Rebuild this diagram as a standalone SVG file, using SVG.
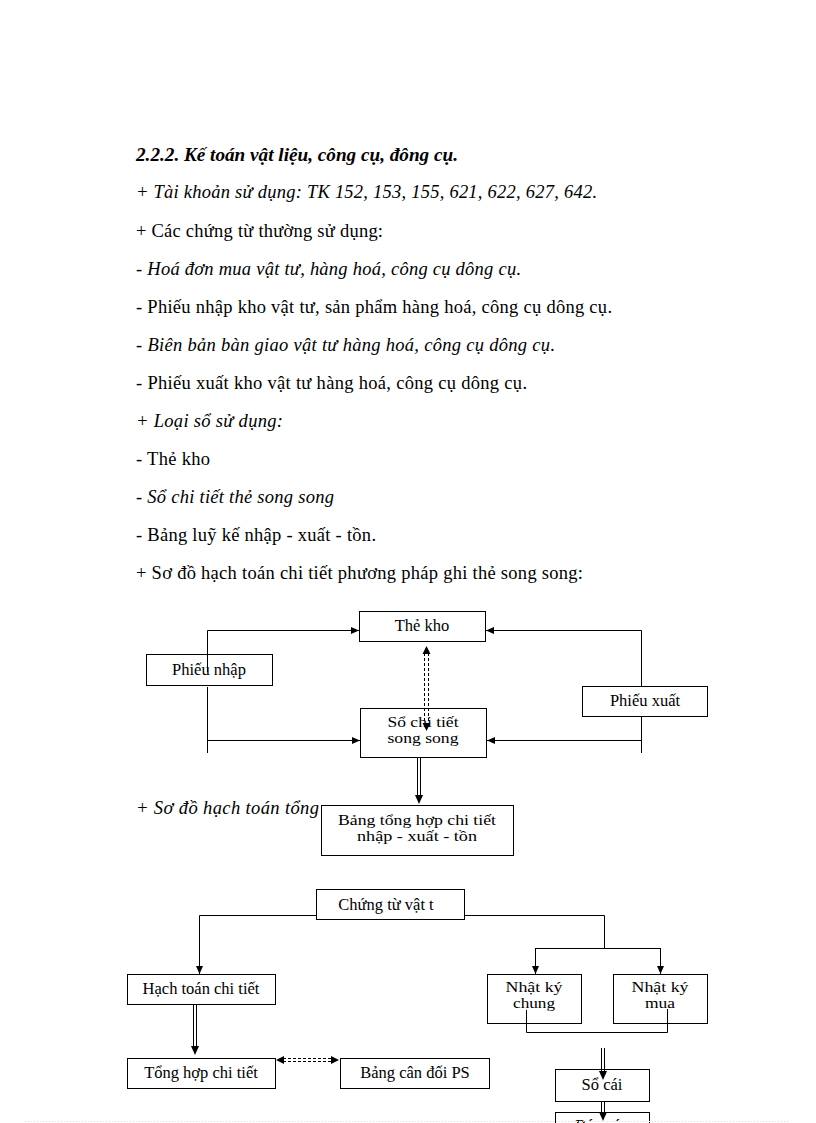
<svg xmlns="http://www.w3.org/2000/svg" width="816" height="1123" viewBox="0 0 816 1123">
<style>
.t{font-family:"Liberation Serif","Times New Roman",serif;font-size:18.5px;fill:#000}
.i{font-style:italic}
.b{font-weight:bold}
.n{font-family:"Liberation Serif","Times New Roman",serif;font-size:16.5px;fill:#000;text-anchor:middle}
.n2{font-size:15px}
.box{fill:#fff;stroke:#000;stroke-width:1}
.ln{fill:none;stroke:#000;stroke-width:1}
.dl{fill:none;stroke:#000;stroke-width:1;stroke-dasharray:3 2}
</style>
<defs>
<marker id="ah" markerWidth="9" markerHeight="7" refX="8" refY="3.5" orient="auto" markerUnits="userSpaceOnUse">
<path d="M0,0 L8,3.5 L0,7 z" fill="#000"/>
</marker>
</defs>
<rect width="816" height="1123" fill="#fff"/>
<g id="text">
<text class="t i b" x="136" y="161" textLength="322" lengthAdjust="spacingAndGlyphs">2.2.2. Kế toán vật liệu, công cụ, đông cụ.</text>
<text class="t i" x="136" y="198" textLength="461">+ Tài khoản sử dụng: TK 152, 153, 155, 621, 622, 627, 642.</text>
<text class="t" x="136" y="237" textLength="247">+ Các chứng từ thường sử dụng:</text>
<text class="t i" x="136" y="275" textLength="385">- Hoá đơn mua vật tư, hàng hoá, công cụ dông cụ.</text>
<text class="t" x="136" y="313" textLength="476">- Phiếu nhập kho vật tư, sản phẩm hàng hoá, công cụ dông cụ.</text>
<text class="t i" x="136" y="351" textLength="419">- Biên bản bàn giao vật tư hàng hoá, công cụ dông cụ.</text>
<text class="t" x="136" y="389" textLength="391">- Phiếu xuất kho vật tư hàng hoá, công cụ dông cụ.</text>
<text class="t i" x="136" y="427" textLength="147">+ Loại sổ sử dụng:</text>
<text class="t" x="136" y="465" textLength="74">- Thẻ kho</text>
<text class="t i" x="136" y="503" textLength="198">- Sổ chi tiết thẻ song song</text>
<text class="t" x="136" y="541" textLength="240">- Bảng luỹ kế nhập - xuất - tồn.</text>
<text class="t" x="136" y="579" textLength="447">+ Sơ đồ hạch toán chi tiết phương pháp ghi thẻ song song:</text>
<text class="t i" x="136" y="814" textLength="183">+ Sơ đồ hạch toán tổng</text>
</g>
<g id="n-thekho"><rect class="box" x="359.5" y="611.5" width="126" height="30"/><text class="n" x="422" y="631">Thẻ kho</text></g>
<g id="n-phieunhap"><rect class="box" x="146.5" y="654.5" width="126" height="31"/><text class="n" x="209" y="675">Phiếu nhập</text></g>
<g id="n-phieuxuat"><rect class="box" x="582.5" y="686.5" width="125" height="30"/><text class="n" x="645" y="706">Phiếu xuất</text></g>
<g id="n-sochitiet"><rect class="box" x="360.5" y="708.5" width="126" height="49"/><text class="n n2" x="423" y="727" textLength="71" lengthAdjust="spacingAndGlyphs">Sổ chi tiết</text><text class="n n2" x="423" y="743" textLength="71" lengthAdjust="spacingAndGlyphs">song song</text></g>
<g id="n-bangtonghop"><rect class="box" x="321.5" y="805.5" width="192" height="50"/><text class="n n2" x="417" y="825" textLength="158" lengthAdjust="spacingAndGlyphs">Bảng tổng hợp chi tiết</text><text class="n n2" x="417" y="841" textLength="120" lengthAdjust="spacingAndGlyphs">nhập - xuất - tồn</text></g>
<g id="n-chungtu"><rect class="box" x="316.5" y="889.5" width="148" height="30"/><text class="n" x="386" y="910">Chứng từ vật t</text></g>
<g id="n-hachtoan"><rect class="box" x="127.5" y="974.5" width="148" height="30"/><text class="n" x="201" y="994">Hạch toán chi tiết</text></g>
<g id="n-tonghop"><rect class="box" x="127.5" y="1058.5" width="148" height="30"/><text class="n" x="201" y="1078">Tổng hợp chi tiết</text></g>
<g id="n-bangcandoi"><rect class="box" x="340.5" y="1058.5" width="149" height="30"/><text class="n" x="415" y="1078">Bảng cân đối PS</text></g>
<g id="n-nkchung"><rect class="box" x="487.5" y="974.5" width="94" height="49"/><text class="n n2" x="534" y="992" textLength="57" lengthAdjust="spacingAndGlyphs">Nhật ký</text><text class="n n2" x="534" y="1008" textLength="42" lengthAdjust="spacingAndGlyphs">chung</text></g>
<g id="n-nkmua"><rect class="box" x="613.5" y="974.5" width="94" height="49"/><text class="n n2" x="660" y="992" textLength="57" lengthAdjust="spacingAndGlyphs">Nhật ký</text><text class="n n2" x="660" y="1008" textLength="30" lengthAdjust="spacingAndGlyphs">mua</text></g>
<g id="n-socai"><rect class="box" x="555.5" y="1069.5" width="94" height="32"/><text class="n" x="602" y="1090">Sổ cái</text></g>
<g id="n-baocao"><rect class="box" x="555.5" y="1112.5" width="94" height="32"/><text class="n" x="602" y="1131">Báo cáo</text></g>
<g id="connectors">
<path class="ln" d="M207.5,672 V630.5 H359" marker-end="url(#ah)"/>
<path class="ln" d="M207.5,687 V753"/>
<path class="ln" d="M207.5,740.5 H360" marker-end="url(#ah)"/>
<path class="ln" d="M641.5,686 V630.5 H486" marker-end="url(#ah)"/>
<path class="ln" d="M641.5,717 V753"/>
<path class="ln" d="M641.5,740.5 H487" marker-end="url(#ah)"/>
<line class="dl" x1="424.5" y1="653" x2="424.5" y2="724"/>
<line class="dl" x1="428.5" y1="653" x2="428.5" y2="724"/>
<polygon points="426.5,646 422.5,654 430.5,654" fill="#000"/>
<polygon points="422.5,723 430.5,723 426.5,731" fill="#000"/>
<line class="ln" x1="417.5" y1="758" x2="417.5" y2="797"/>
<line class="ln" x1="420.5" y1="758" x2="420.5" y2="797"/>
<polygon points="415,795 423,795 419,804" fill="#000"/>
<path class="ln" d="M316,915.5 H199.5 V974" marker-end="url(#ah)"/>
<path class="ln" d="M465,915.5 H604.5 V948.5"/>
<path class="ln" d="M535.5,948.5 H660.5"/>
<path class="ln" d="M535.5,948 V974" marker-end="url(#ah)"/>
<path class="ln" d="M660.5,948 V974" marker-end="url(#ah)"/>
<line class="ln" x1="193.5" y1="1005" x2="193.5" y2="1048"/>
<line class="ln" x1="196.5" y1="1005" x2="196.5" y2="1048"/>
<polygon points="191,1046 199,1046 195,1055" fill="#000"/>
<line class="dl" x1="283" y1="1058.5" x2="332" y2="1058.5"/>
<line class="dl" x1="283" y1="1061.5" x2="332" y2="1061.5"/>
<polygon points="276,1060 284,1056 284,1064" fill="#000"/>
<polygon points="339,1060 331,1056 331,1064" fill="#000"/>
<path class="ln" d="M526.5,1010 V1032.5 H667.5 V1009"/>
<line class="ln" x1="601.5" y1="1048" x2="601.5" y2="1073"/>
<line class="ln" x1="604.5" y1="1048" x2="604.5" y2="1073"/>
<polygon points="599,1071 607,1071 603,1080" fill="#000"/>
<line class="ln" x1="601.5" y1="1102" x2="601.5" y2="1114"/>
<line class="ln" x1="604.5" y1="1102" x2="604.5" y2="1114"/>
<polygon points="599,1112 607,1112 603,1121" fill="#000"/>
</g>
<line x1="25" y1="1121.5" x2="790" y2="1121.5" stroke="#e6d6e6" stroke-width="1" stroke-dasharray="1 2"/>
</svg>
